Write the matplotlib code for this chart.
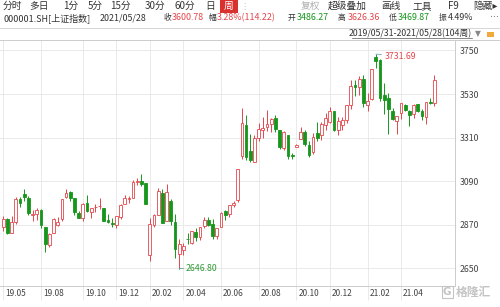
import matplotlib
matplotlib.use('Agg')
import matplotlib.pyplot as plt
import matplotlib.transforms as mtransforms
from matplotlib.lines import Line2D
import numpy as np

plt.rcParams['font.family'] = ['Noto Sans CJK SC', 'DejaVu Sans']

# weekly candles, 000001.SH 2019/05/31 - 2021/05/28 (104 weeks)
dates = ['2019-05-31', '2019-06-06', '2019-06-14', '2019-06-21', '2019-06-28', '2019-07-05', '2019-07-12',
	'2019-07-19', '2019-07-26', '2019-08-02', '2019-08-09', '2019-08-16', '2019-08-23', '2019-08-30',
	'2019-09-06', '2019-09-12', '2019-09-20', '2019-09-27', '2019-09-30', '2019-10-11', '2019-10-18',
	'2019-10-25', '2019-11-01', '2019-11-08', '2019-11-15', '2019-11-22', '2019-11-29', '2019-12-06',
	'2019-12-13', '2019-12-20', '2019-12-27', '2020-01-03', '2020-01-10', '2020-01-17', '2020-01-23',
	'2020-02-07', '2020-02-14', '2020-02-21', '2020-02-28', '2020-03-06', '2020-03-13', '2020-03-20',
	'2020-03-27', '2020-04-03', '2020-04-10', '2020-04-17', '2020-04-24', '2020-04-30', '2020-05-08',
	'2020-05-15', '2020-05-22', '2020-05-29', '2020-06-05', '2020-06-12', '2020-06-19', '2020-06-24',
	'2020-07-03', '2020-07-10', '2020-07-17', '2020-07-24', '2020-07-31', '2020-08-07', '2020-08-14',
	'2020-08-21', '2020-08-28', '2020-09-04', '2020-09-11', '2020-09-18', '2020-09-25', '2020-09-30',
	'2020-10-09', '2020-10-16', '2020-10-23', '2020-10-30', '2020-11-06', '2020-11-13', '2020-11-20',
	'2020-11-27', '2020-12-04', '2020-12-11', '2020-12-18', '2020-12-25', '2020-12-31', '2021-01-08',
	'2021-01-15', '2021-01-22', '2021-01-29', '2021-02-05', '2021-02-10', '2021-02-19', '2021-02-26',
	'2021-03-05', '2021-03-12', '2021-03-19', '2021-03-26', '2021-04-02', '2021-04-09', '2021-04-16',
	'2021-04-23', '2021-04-30', '2021-05-07', '2021-05-14', '2021-05-21', '2021-05-28']

opens = [2857, 2899, 2830, 2885, 3000, 3024, 3006, 2918, 2922, 2945, 2860, 2768, 2830, 2870,
	2901, 3012, 3036, 3003, 2929, 2905, 2978, 2936, 2958, 2964, 2956, 2895, 2880, 2869,
	2910, 2974, 3000, 3005, 3085, 3092, 3080, 2716, 2870, 2921, 3031, 2891, 2990, 2885,
	2723, 2743, 2800, 2780, 2834, 2808, 2863, 2896, 2872, 2812, 2858, 2937, 2925, 2972,
	2993, 3215, 3375, 3240, 3188, 3307, 3348, 3363, 3377, 3410, 3346, 3258, 3322, 3224,
	3262, 3303, 3338, 3275, 3235, 3333, 3323, 3375, 3388, 3445, 3348, 3375, 3397, 3474,
	3575, 3565, 3608, 3474, 3507, 3718, 3700, 3525, 3510, 3445, 3393, 3433, 3477, 3446,
	3430, 3478, 3442, 3414, 3492, 3486.27]
highs = [2916, 2906, 2914, 3010, 3012, 3048, 3014, 2946, 2953, 2951, 2860, 2830, 2904, 2908,
	3002, 3048, 3042, 3006, 2940, 2981, 3022, 2957, 2973, 3005, 2956, 2925, 2905, 2915,
	2976, 3021, 3017, 3098, 3107, 3127, 3081, 2904, 2926, 3058, 3048, 3074, 3000, 2924,
	2800, 2780, 2826, 2839, 2853, 2860, 2907, 2908, 2898, 2855, 2935, 2945, 2971, 2988,
	3152, 3458, 3424, 3330, 3322, 3382, 3415, 3451, 3409, 3426, 3349, 3341, 3322, 3233,
	3280, 3365, 3348, 3292, 3333, 3390, 3387, 3435, 3465, 3446, 3416, 3414, 3474, 3602,
	3600, 3622, 3627, 3534, 3655, 3731.69, 3709, 3588, 3534, 3458, 3420, 3485, 3481, 3448,
	3479, 3481, 3457, 3490, 3508, 3626.36]
lows = [2838, 2822, 2826, 2876, 2960, 2990, 2918, 2889, 2894, 2853, 2733, 2756, 2830, 2862,
	2888, 3003, 2992, 2917, 2903, 2891, 2935, 2906, 2934, 2949, 2888, 2880, 2857, 2856,
	2900, 2974, 2982, 3004, 3070, 3068, 2974, 2685, 2860, 2917, 2878, 2890, 2869, 2702,
	2646.80, 2719, 2773, 2771, 2788, 2791, 2854, 2865, 2797, 2798, 2858, 2893, 2909, 2960,
	2984, 3200, 3196, 3185, 3187, 3292, 3310, 3342, 3337, 3340, 3255, 3245, 3202, 3202,
	3262, 3303, 3266, 3210, 3227, 3295, 3300, 3350, 3384, 3343, 3325, 3347, 3383, 3457,
	3522, 3527, 3466, 3446, 3499, 3661, 3496, 3429, 3329, 3401, 3328, 3403, 3442, 3368,
	3410, 3437, 3401, 3377, 3479, 3469.87]
closes = [2898.7, 2827.8, 2882.0, 3002.0, 2978.9, 3011.1, 2930.6, 2924.2, 2944.5, 2867.8, 2774.8,
	2823.8, 2897.4, 2886.2, 2999.6, 3031.2, 3006.5, 2932.2, 2905.2, 2973.7, 2938.1, 2954.9,
	2958.2, 2964.2, 2891.3, 2885.3, 2872.0, 2912.0, 2967.7, 3004.9, 3005.0, 3083.8, 3092.3,
	3075.5, 2976.5, 2876.0, 2917.0, 3039.7, 2880.3, 3034.5, 2887.4, 2745.6, 2772.2, 2764.0,
	2796.6, 2838.5, 2808.5, 2860.1, 2895.3, 2868.5, 2813.8, 2852.4, 2930.8, 2919.7, 2967.6,
	2979.6, 3152.8, 3383.3, 3214.1, 3196.8, 3310.0, 3354.0, 3360.1, 3380.7, 3403.8, 3355.4,
	3260.4, 3338.1, 3219.4, 3218.1, 3272.1, 3336.4, 3278.0, 3224.5, 3312.5, 3310.1, 3377.7,
	3408.3, 3444.6, 3347.2, 3394.9, 3396.6, 3473.1, 3570.1, 3566.4, 3606.8, 3483.1, 3496.3,
	3655.1, 3696.2, 3509.1, 3502.0, 3453.1, 3404.7, 3418.3, 3484.4, 3450.7, 3426.6, 3474.2,
	3446.9, 3418.9, 3490.4, 3486.6, 3600.78]

month_labels = ['19.05', '19.08', '19.10', '19.12', '20.02', '20.04', '20.06', '20.08', '20.10', '20.12', '21.02', '21.04']
month_weeks = ['2019-05-31', '2019-08-02', '2019-10-11', '2019-12-06', '2020-02-07', '2020-04-03',
	'2020-06-05', '2020-08-07', '2020-10-09', '2020-12-04', '2021-02-05', '2021-04-02']
price_ticks = [2650, 2870, 3090, 3310, 3530, 3750]

RED = '#e4464b'
GREEN = '#17961c'
GRID = '#e6e6e6'
LINE = '#cccccc'
TXT = '#333333'

W, H = 500, 307

def fx(x): return x / W
def fy(y): return 1 - y / H

fig = plt.figure(figsize=(5, 3.07), dpi=100)
fig.patch.set_facecolor('white')
ax = fig.add_axes([0, fy(286), fx(455), (286 - 39.5) / H])

o = np.array(opens, float)
h = np.array(highs, float)
l = np.array(lows, float)
c = np.array(closes, float)
x = np.arange(len(dates))
up = c >= o

edge = np.where(up, RED, GREEN)
face = np.where(up, 'white', GREEN)

ax.vlines(x, l, h, colors=edge, linewidth=0.7, zorder=2)
body = np.maximum(np.abs(c - o), 1.5)
ax.bar(x, body, bottom=np.minimum(o, c), width=0.66, color=face, edgecolor=edge, linewidth=0.6, zorder=3)

ax.set_xlim(-0.79, 107.9)
ax.set_ylim(2560.6, 3805.5)

ax.yaxis.tick_right()
ax.set_yticks(price_ticks)
ax.set_yticklabels([str(p) for p in price_ticks])
ax.tick_params(axis='y', length=0, pad=3.5, labelsize=6.3, labelcolor='#444444')

xt = [dates.index(d) for d in month_weeks]
ax.set_xticks(xt)
ax.set_xticklabels(month_labels)
ax.tick_params(axis='x', direction='out', length=10, width=0.6, color=GRID, pad=-7.6, labelsize=6.0, labelcolor='#444444')
shift = mtransforms.ScaledTranslation(2 / 100, 0, fig.dpi_scale_trans)
for lab in ax.get_xticklabels():
	lab.set_ha('left')
	lab.set_transform(lab.get_transform() + shift)

ax.grid(True, color=GRID, linewidth=0.6, zorder=0)
ax.set_axisbelow(True)
for s in ['left', 'top']:
	ax.spines[s].set_visible(False)
for s in ['right', 'bottom']:
	ax.spines[s].set_color(LINE)
	ax.spines[s].set_linewidth(0.7)

# high / low markers
ih = int(np.argmax(h))
il = int(np.argmin(l))
ax.annotate('%.2f' % h[ih], xy=(ih, h[ih]), xytext=(ih + 2.0, h[ih] - 10), fontsize=6.3, color=RED,
	ha='left', va='center', arrowprops=dict(arrowstyle='-', color='#7fa2c4', lw=0.6, shrinkA=0, shrinkB=0))
ax.annotate('%.2f' % l[il], xy=(il, l[il]), xytext=(il + 1.5, l[il] + 4), fontsize=6.3, color='#2e9a32',
	ha='left', va='center', arrowprops=dict(arrowstyle='-', color='#5fa08a', lw=0.6, shrinkA=0, shrinkB=0,
	connectionstyle='angle,angleA=0,angleB=90,rad=0'))

# header rows
fs1 = 7.0
menu = [('分时', 12.5), ('多日', 39), ('1分', 71), ('5分', 95.5), ('15分', 120.5), ('30分', 155),
	('60分', 185), ('日', 210), ('超级叠加', 347.5), ('画线', 390.5), ('工具', 422.5), ('F9', 453), ('隐藏▸', 485)]
for t, px in menu:
	fig.text(fx(px), fy(6), t, ha='center', va='center', fontsize=fs1, color=TXT)
fig.text(fx(310), fy(6), '复权', ha='center', va='center', fontsize=fs1, color='#b0b0b0')
fig.patches.append(plt.Rectangle((fx(220), fy(12.5)), fx(18), 12.5 / H, transform=fig.transFigure,
	facecolor='#d9322e', edgecolor='none'))
fig.text(fx(229), fy(6), '周', ha='center', va='center', fontsize=fs1, color='white')
fig.text(fx(244), fy(6), '⋮', ha='center', va='center', fontsize=6, color='#bbbbbb')

# second row: label glyphs slightly smaller than the numbers
row2 = [('000001.SH[上证指数]', 3, TXT, 6.5), ('2021/05/28', 100, TXT, 6.4), ('收', 164, TXT, 5.6),
	('3600.78', 171.5, RED, 6.4), ('幅', 208.5, TXT, 5.6), ('3.28%(114.22)', 217, RED, 6.4),
	('开', 287.5, TXT, 5.6), ('3486.27', 297, GREEN, 6.4), ('高', 337.5, TXT, 5.6), ('3626.36', 348, RED, 6.4),
	('低', 388.5, TXT, 5.6), ('3469.87', 398, GREEN, 6.4), ('振', 438.5, TXT, 5.6), ('4.49%', 447.5, TXT, 6.4),
	('…', 489, TXT, 6.4)]
for t, px, col, fs in row2:
	fig.text(fx(px), fy(18), t, ha='left', va='center', fontsize=fs, color=col)

fig.add_artist(Line2D([0, 1], [fy(28), fy(28)], color='#d6d6d6', linewidth=0.7, transform=fig.transFigure))
fig.text(fx(472), fy(33.5), '2019/05/31-2021/05/28(104周)', ha='right', va='center', fontsize=6.3, color=TXT)
fig.add_artist(Line2D([fx(352), fx(472)], [fy(38), fy(38)], color='#555555', linewidth=0.5, transform=fig.transFigure))
fig.text(fx(478), fy(33.5), '▼', ha='center', va='center', fontsize=5.5, color='#888888', family='DejaVu Sans')
fig.patches.append(plt.Rectangle((fx(487), fy(37)), fx(7), 5 / H, transform=fig.transFigure,
	facecolor='#f2a93b', edgecolor='none'))
fig.add_artist(Line2D([0, 1], [fy(39.5), fy(39.5)], color=LINE, linewidth=0.7, transform=fig.transFigure))

# watermark
fig.text(fx(447), fy(292), 'G', ha='center', va='center', fontsize=7.5, color='#c4c4c4', family='DejaVu Sans',
	fontweight='bold', bbox=dict(boxstyle='square,pad=0.12', facecolor='none', edgecolor='#c4c4c4', linewidth=0.8))
fig.text(fx(456), fy(292), '格隆汇', ha='left', va='center', fontsize=8.5, color='#c4c4c4', fontweight='bold')

fig.savefig('out.png', dpi=100)
